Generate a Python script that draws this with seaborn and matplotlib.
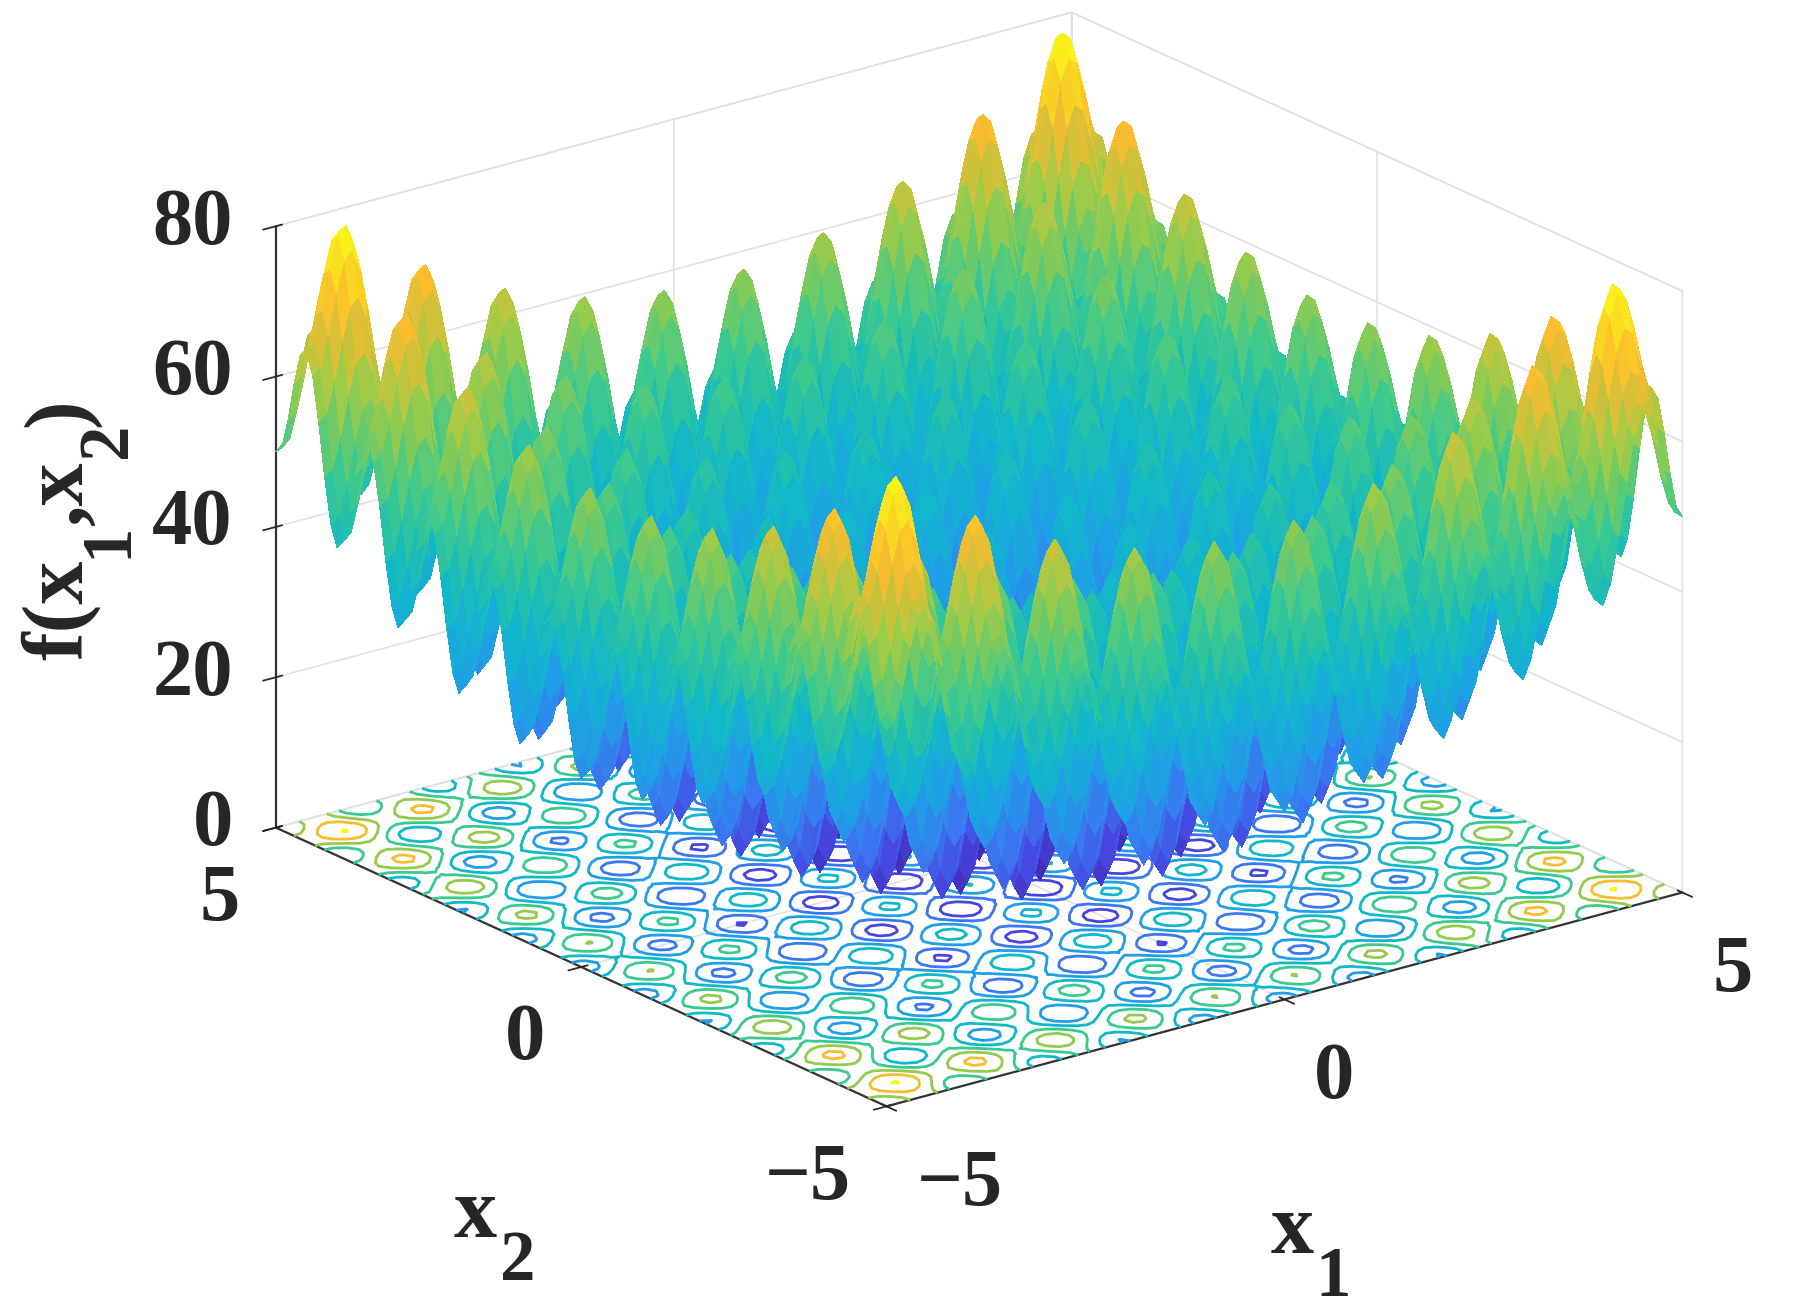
import numpy as np
import matplotlib
matplotlib.use("Agg")
import matplotlib.pyplot as plt
import seaborn as sns

grid_x = [-5.0, -4.9, -4.8, -4.7, -4.6, -4.5, -4.4, -4.3, -4.2, -4.1,
          -4.0, -3.9, -3.8, -3.7, -3.6, -3.5, -3.4, -3.3, -3.2, -3.1,
          -3.0, -2.9, -2.8, -2.7, -2.6, -2.5, -2.4, -2.3, -2.2, -2.1,
          -2.0, -1.9, -1.8, -1.7, -1.6, -1.5, -1.4, -1.3, -1.2, -1.1,
          -1.0, -0.9, -0.8, -0.7, -0.6, -0.5, -0.4, -0.3, -0.2, -0.1,
          0.0, 0.1, 0.2, 0.3, 0.4, 0.5, 0.6, 0.7, 0.8, 0.9,
          1.0, 1.1, 1.2, 1.3, 1.4, 1.5, 1.6, 1.7, 1.8, 1.9,
          2.0, 2.1, 2.2, 2.3, 2.4, 2.5, 2.6, 2.7, 2.8, 2.9,
          3.0, 3.1, 3.2, 3.3, 3.4, 3.5, 3.6, 3.7, 3.8, 3.9,
          4.0, 4.1, 4.2, 4.3, 4.4, 4.5, 4.6, 4.7, 4.8, 4.9, 5.0]
profile = [25, 25.92, 29.95, 35.18, 39.25, 40.25, 37.45, 31.58, 24.55, 18.72,
           16, 17.12, 21.35, 26.78, 31.05, 32.25, 29.65, 23.98, 17.15, 11.52,
           9, 10.32, 14.75, 20.38, 24.85, 26.25, 23.85, 18.38, 11.75, 6.32,
           4, 5.52, 10.15, 15.98, 20.65, 22.25, 20.05, 14.78, 8.35, 3.12,
           1, 2.72, 7.55, 13.58, 18.45, 20.25, 18.25, 13.18, 6.95, 1.92,
           0, 1.92, 6.95, 13.18, 18.25, 20.25, 18.45, 13.58, 7.55, 2.72,
           1, 3.12, 8.35, 14.78, 20.05, 22.25, 20.65, 15.98, 10.15, 5.52,
           4, 6.32, 11.75, 18.38, 23.85, 26.25, 24.85, 20.38, 14.75, 10.32,
           9, 11.52, 17.15, 23.98, 29.65, 32.25, 31.05, 26.78, 21.35, 17.12,
           16, 18.72, 24.55, 31.58, 37.45, 40.25, 39.25, 35.18, 29.95, 25.92, 25]
contour_levels = [10, 20, 30, 40, 50, 60, 70, 80]
xy_ticks = [-5, 0, 5]
xy_ticklabels = ["\u22125", "0", "5"]
z_ticks = [0, 20, 40, 60, 80]
z_ticklabels = ["0", "20", "40", "60", "80"]

# one colour per 10 units of height
parula = ["#3e26a8", "#4646e0", "#3a78f0", "#1f9fe6", "#10b8c8",
          "#3cc98e", "#98cb4a", "#fbbb2e", "#f9fb15"]

sns.set_theme(style="white")
plt.rcParams["font.family"] = ["Liberation Serif", "DejaVu Serif"]
plt.rcParams["font.weight"] = "bold"

cmap = sns.blend_palette(parula, as_cmap=True)

x = np.array(grid_x)
g = np.array(profile)
X, Y = np.meshgrid(x, x)
Z = g[None, :] + g[:, None]

fig = plt.figure(figsize=(17.97, 13.10), dpi=100)
ax = fig.add_axes([0.035, 0.0595, 1, 1], projection="3d", computed_zorder=False)
ax.set_proj_type("ortho")
ax.view_init(elev=20.5, azim=-127.5)
ax.set_box_aspect((1, 1, 0.64), zoom=1.154)

cont = ax.contour(X, Y, Z, levels=contour_levels, zdir="z", offset=0, cmap=cmap,
                  vmin=0, vmax=80.5, linewidths=2.0, zorder=1)
cont.set_clip_on(False)
surf = ax.plot_surface(X, Y, Z, cmap=cmap, vmin=0, vmax=80.5, rstride=1, cstride=1,
                       linewidth=0, antialiased=False, shade=False, zorder=2)
surf.set_clip_on(False)

ax.set_xlim(-5, 5)
ax.set_ylim(-5, 5)
ax.set_zlim(0, 80)
ax.set_xticks(xy_ticks, xy_ticklabels, ha="left", va="top")
ax.set_yticks(xy_ticks, xy_ticklabels, ha="right", va="top")
ax.set_zticks(z_ticks, z_ticklabels, ha="right", va="center")
ax.tick_params(axis="x", labelsize=58, colors="#262626", pad=16)
ax.tick_params(axis="y", labelsize=58, colors="#262626", pad=14)
ax.tick_params(axis="z", labelsize=58, colors="#262626", pad=7)

for axis in (ax.xaxis, ax.yaxis, ax.zaxis):
    axis.set_pane_color((1, 1, 1, 1))
    axis.pane.set_edgecolor("#dcdcdc")
    axis.line.set_color("#333333")
    axis.line.set_linewidth(1.6)
    axis._axinfo["grid"]["color"] = "#e2e2e2"
    axis._axinfo["grid"]["linewidth"] = 1.2
    axis._axinfo["tick"]["color"] = "#333333"


# axis names set piece by piece, the subscripts are big and sit low in the original
def put(text, px, py, size=62, rotation=0):
    fig.text(px / 1797, 1 - py / 1310, text, fontsize=size, rotation=rotation,
             rotation_mode="anchor", ha="left", va="baseline", color="#262626")


put("x", 1271, 1253)
put("1", 1315, 1296, size=51)
put("x", 454, 1237)
put("2", 500, 1280, size=51)
put("f(x", 82, 660, rotation=90)
put("1", 126, 558, size=51, rotation=90)
put(",x", 82, 525, rotation=90)
put("2", 126, 458, size=51, rotation=90)
put(")", 82, 427, rotation=90)

fig.savefig("out.png", dpi=100)
